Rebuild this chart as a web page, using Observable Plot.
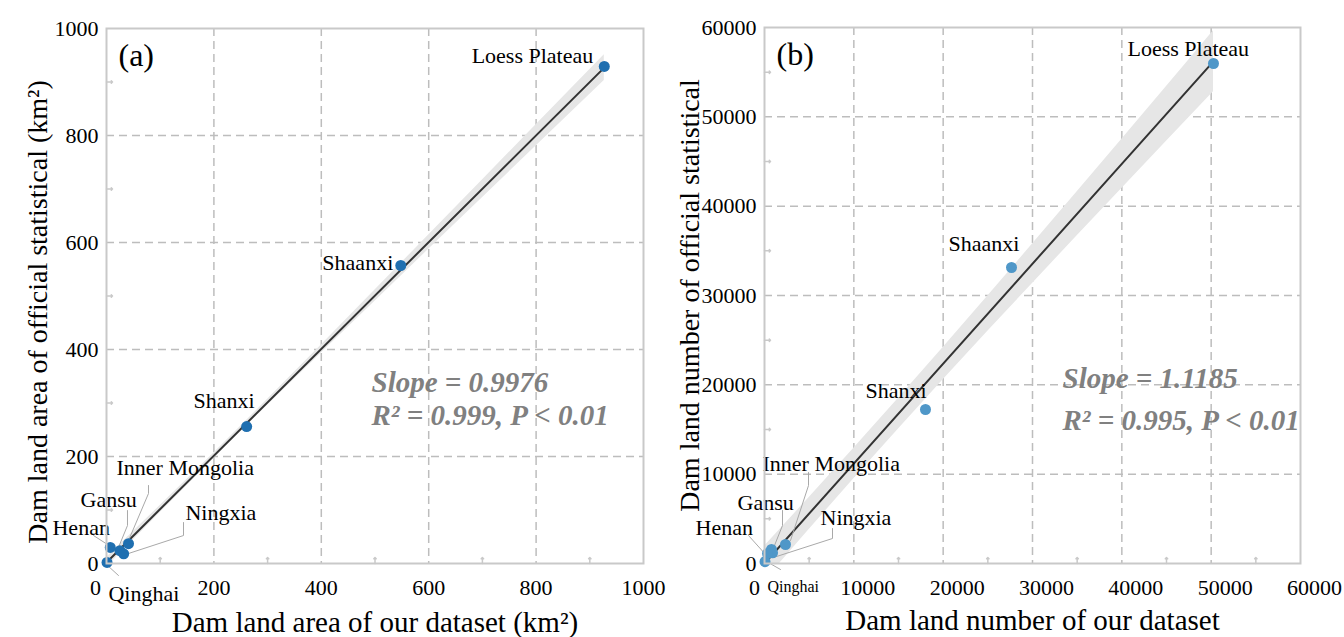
<!DOCTYPE html>
<html><head><meta charset="utf-8">
<script src="https://cdn.jsdelivr.net/npm/d3@7"></script>
<script src="https://cdn.jsdelivr.net/npm/@observablehq/plot@0.6"></script>
<style>
body{margin:0;background:#fff;}
#wrap{display:flex;width:1344px;height:637px;overflow:hidden;}
#wrap svg{overflow:visible;}
</style></head><body><div id="wrap"></div>
<script>
// ---- data ----
const regions = ["Loess Plateau","Shaanxi","Shanxi","Inner Mongolia","Gansu","Ningxia","Henan","Qinghai"];
// panel (a): dam land area (km2)
const areaOurs     = [927, 548, 261, 41, 25, 32, 7, 1];
const areaOfficial = [929, 557, 256, 37, 24, 18, 30, 2];
// panel (b): dam land number
const numberOurs     = [50260, 27650, 18020, 2350, 780, 900, 340, 60];
const numberOfficial = [55970, 33135, 17240, 2127, 1580, 1200, 1120, 200];

// fitted lines and confidence bands
const fitAreaX = [0, 927];
const fitAreaY = [2, 926.8];
const bandAreaX     = [0, 100, 200, 300, 400, 500, 600, 700, 800, 927];
const bandAreaLower = [-7.2, 95.2, 196.4, 295.8, 393.4, 490.4, 587.2, 683.7, 780.3, 902.8];
const bandAreaUpper = [11.2, 108.4, 206.6, 306.8, 408.6, 511.2, 614, 716.9, 819.9, 950.8];

const fitNumberX = [0, 50260];
const fitNumberY = [0, 56216];
const bandNumberX     = [0, 5000, 10000, 15000, 20000, 25000, 30000, 35000, 40000, 45000, 50260];
const bandNumberLower = [-1940, 3809, 9478, 15062, 20561, 25987, 31356, 36685, 41985, 47263, 52796];
const bandNumberUpper = [1940, 7377, 12892, 18494, 24179, 29939, 35754, 41611, 47495, 53403, 59636];

// ticks
const areaTicks = [0, 200, 400, 600, 800, 1000];
const areaMinor = [100, 300, 500, 700, 900];
const numberTicks = [0, 10000, 20000, 30000, 40000, 50000, 60000];
const numberMinor = [5000, 15000, 25000, 35000, 45000, 55000];

// text
const statsA = ["Slope = 0.9976", "R\u00B2 = 0.999, P < 0.01"];
const statsB = ["Slope = 1.1185", "R\u00B2 = 0.995, P < 0.01"];

// label anchor positions (data units) and leader lines
const areaLabelX = [680, 402, 162, 18.6, -48.4, 147, -100.6, 3.7];
const areaLabelY = [948, 561, 303, 178, 118, 95, 67, -56];
const numberLabelX = [40636, 20598, 11306, -224, -3022, 6269, -7724, 336];
const numberLabelY = [57650, 35822, 19366, 11194, 6829, 5149, 4030, -2575];

const areaLeaders = [
  ["Inner Mongolia", [[78.2,145.8],[78.2,130.8],[41,43]]],
  ["Gansu", [[39.1,99],[39.1,71],[22.3,29.9]]],
  ["Henan", [[-24.2,52.3],[1.9,35.5]]],
  ["Ningxia", [[143.4,76.6],[143.4,52.3],[41,18.7]]],
  ["Qinghai", [[1.9,-3.7],[22.3,-22.4]]]
];
const numberLeaders = [
  ["Inner Mongolia", [[4926,10187],[4926,8731],[2911,2575]]],
  ["Gansu", [[2015,5933],[2015,4254],[896,1455]]],
  ["Henan", [[-1791,3134],[224,896]]],
  ["Ningxia", [[7612,3918],[7612,2799],[1007,672]]],
  ["Qinghai", [[224,224],[1791,-672]]]
];

const serif = "'Liberation Serif', 'Times New Roman', serif";

function panel(cfg) {
  const pts = regions.map((r, i) => ({name: r, x: cfg.xs[i], y: cfg.ys[i], lx: cfg.lx[i], ly: cfg.ly[i]}));
  const band = cfg.bandX.map((x, i) => ({x, lo: cfg.bandLo[i], hi: cfg.bandHi[i]}));
  const fit = cfg.fitX.map((x, i) => ({x, y: cfg.fitY[i]}));
  const leaders = cfg.leaders.flatMap(([name, p]) => p.map(([x, y]) => ({name, x, y})));
  const fmt = d3.format("d");
  const inner = cfg.ticks.slice(1, -1);
  return Plot.plot({
    width: 672, height: 637,
    marginLeft: cfg.ml, marginRight: cfg.mr, marginTop: cfg.mt, marginBottom: 74,
    style: {fontFamily: serif, fontSize: "22px", color: "#000", background: "transparent", overflow: "visible"},
    x: {domain: cfg.domain, label: null, axis: null},
    y: {domain: cfg.domain, label: null, axis: null},
    marks: [
      Plot.gridX(inner, {stroke: "#bdbdbd", strokeOpacity: 1, strokeWidth: 1.5, strokeDasharray: "8,5"}),
      Plot.gridY(inner, {stroke: "#bdbdbd", strokeOpacity: 1, strokeWidth: 1.5, strokeDasharray: "8,5"}),
      Plot.areaY(band, {x: "x", y1: "lo", y2: "hi", fill: "#e6e6e6", clip: true}),
      Plot.line(fit, {x: "x", y: "y", stroke: "#333", strokeWidth: 2}),
      Plot.line(leaders, {x: "x", y: "y", z: "name", stroke: "#a9a9a9", strokeWidth: 1}),
      Plot.dot(pts, {x: "x", y: "y", r: cfg.r, fill: cfg.color, fillOpacity: cfg.op}),
      Plot.text(pts, {x: "lx", y: "ly", text: "name", textAnchor: "start", fontFamily: serif, fontSize: d => (cfg.smallQ && d.name === "Qinghai") ? 16 : 22}),
      Plot.frame({stroke: "#c9c9c9", strokeWidth: 2}),
      Plot.vector(cfg.minor, {x: d => d, frameAnchor: "bottom", length: 6, anchor: "start", stroke: "#c9c9c9", strokeWidth: 1.5}),
      Plot.vector(cfg.minor, {y: d => d, frameAnchor: "left", length: 6, rotate: 90, anchor: "start", stroke: "#c9c9c9", strokeWidth: 1.5}),
      Plot.axisX([cfg.ticks[0]], {tickSize: 0, tickPadding: 16, dx: cfg.zeroDx, tickFormat: fmt, fontFamily: serif}),
      Plot.axisX(cfg.ticks.slice(1), {tickSize: 0, tickPadding: 16, dx: cfg.xdx, tickFormat: fmt, fontFamily: serif}),
      Plot.axisY(cfg.ticks, {tickSize: 0, tickPadding: 8, tickFormat: fmt, fontFamily: serif}),
      Plot.text([cfg.tag], {frameAnchor: "top-left", dx: 12, dy: 27, textAnchor: "start", lineAnchor: "middle", fontSize: 32, fontFamily: serif, text: d => d}),
      Plot.text([cfg.stats[0]], {x: cfg.statX, y: cfg.statY[0], text: d => d, textAnchor: "start", lineAnchor: "middle", fontSize: 29, fontFamily: serif, fontWeight: "bold", fontStyle: "italic", fill: "#808080"}),
      Plot.text([cfg.stats[1]], {x: cfg.statX, y: cfg.statY[1], text: d => d, textAnchor: "start", lineAnchor: "middle", fontSize: 29, fontFamily: serif, fontWeight: "bold", fontStyle: "italic", fill: "#808080"}),
      Plot.text([cfg.xTitle], {frameAnchor: "bottom", dy: cfg.xTitleDy, textAnchor: "middle", lineAnchor: "middle", fontSize: 29, fontFamily: serif, text: d => d}),
      Plot.text([cfg.yTitle], {frameAnchor: "left", rotate: -90, dx: cfg.yTitleDx, dy: cfg.yTitleDy, textAnchor: "middle", lineAnchor: "middle", fontSize: 28, fontFamily: serif, text: d => d})
    ]
  });
}

const wrap = document.getElementById("wrap");
wrap.appendChild(panel({
  xs: areaOurs, ys: areaOfficial, lx: areaLabelX, ly: areaLabelY,
  bandX: bandAreaX, bandLo: bandAreaLower, bandHi: bandAreaUpper,
  fitX: fitAreaX, fitY: fitAreaY, leaders: areaLeaders,
  ticks: areaTicks, minor: areaMinor, domain: [0, 1000],
  ml: 106, mr: 29, mt: 28, r: 5.5, color: "#1f6fb0", op: 1, smallQ: false,
  zeroDx: -11, xdx: 0, tag: "(a)", stats: statsA, statX: 493.5, statY: [338, 277],
  xTitle: "Dam land area of our dataset (km\u00B2)", xTitleDy: 59,
  yTitle: "Dam land area of official statistical (km\u00B2)", yTitleDx: -68, yTitleDy: 16
}));
wrap.appendChild(panel({
  xs: numberOurs, ys: numberOfficial, lx: numberLabelX, ly: numberLabelY,
  bandX: bandNumberX, bandLo: bandNumberLower, bandHi: bandNumberUpper,
  fitX: fitNumberX, fitY: fitNumberY, leaders: numberLeaders,
  ticks: numberTicks, minor: numberMinor, domain: [0, 60000],
  ml: 92, mr: 44, mt: 27, r: 5.5, color: "#4f97c8", op: 1, smallQ: true,
  zeroDx: -10, xdx: 14, tag: "(b)", stats: statsB, statX: 33360, statY: [20710, 16008],
  xTitle: "Dam land number of our dataset", xTitleDy: 57,
  yTitle: "Dam land number of official statistical", yTitleDx: -74, yTitleDy: 0
}));
</script></body></html>
